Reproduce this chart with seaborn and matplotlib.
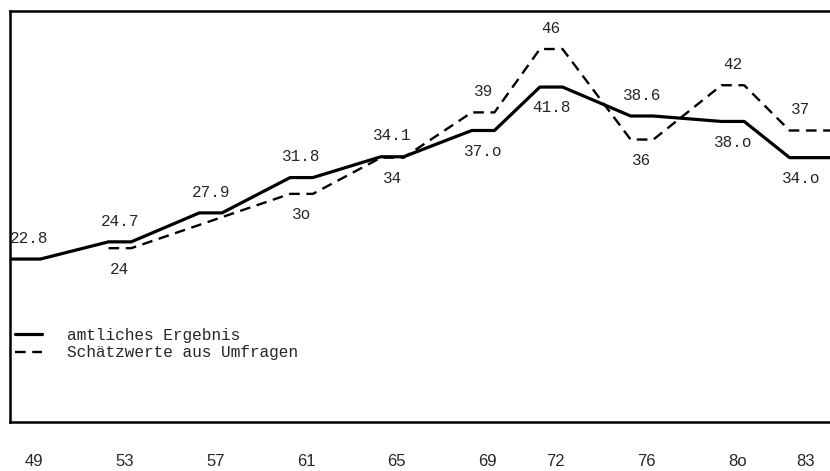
import numpy as np
import pandas as pd
import matplotlib
matplotlib.use("Agg")
import matplotlib.pyplot as plt
import seaborn as sns

# Wahljahre und Werte (in %)
jahre = [49, 53, 57, 61, 65, 69, 72, 76, 80, 83]
jahr_labels = ["49", "53", "57", "61", "65", "69", "72", "76", "8o", "83"]

amtlich = [22.8, 24.7, 27.9, 31.8, 34.1, 37.0, 41.8, 38.6, 38.0, 34.0]
amtlich_labels = ["22.8", "24.7", "27.9", "31.8", "34.1", "37.o", "41.8", "38.6", "38.o", "34.o"]
amtlich_lage = ["oben", "oben", "oben", "oben", "oben", "unten", "unten", "oben", "unten", "unten"]

umfrage_jahre = [53, 61, 65, 69, 72, 76, 80, 83]
umfrage = [24, 30, 34, 39, 46, 36, 42, 37]
umfrage_labels = ["24", "3o", "34", "39", "46", "36", "42", "37"]
umfrage_lage = ["unten", "unten", "unten", "oben", "oben", "unten", "oben", "oben"]

XMIN, XMAX = 47.96, 84.08
YMIN, YMAX = 4.8, 50.2

sns.set_style("white")
plt.rcParams["font.family"] = ["Liberation Mono", "DejaVu Sans Mono"]


def plateaus(years, values, left=None, right=None):
    # jedes Ergebnis als kurzes waagerechtes Stueck (ca. ein Jahr breit)
    xs, ys = [], []
    for i, (yr, v) in enumerate(zip(years, values)):
        x0, x1 = yr - 0.7, yr + 0.3
        if i == 0 and left is not None:
            x0 = left
        if i == len(years) - 1 and right is not None:
            x1 = right
        xs += [x0, x1]
        ys += [v, v]
    return pd.DataFrame({"jahr": xs, "wert": ys})


df_amt = plateaus(jahre, amtlich, left=XMIN, right=XMAX)
df_umf = plateaus(umfrage_jahre, umfrage, right=XMAX)

fig = plt.figure(figsize=(8.3, 4.71), dpi=100)
ax = fig.add_axes([10 / 830, 1 - 422 / 471, 820 / 830, 411 / 471])

sns.lineplot(data=df_amt, x="jahr", y="wert", ax=ax, sort=False, estimator=None,
             color="black", linewidth=2.3, label="amtliches Ergebnis")
sns.lineplot(data=df_umf, x="jahr", y="wert", ax=ax, sort=False, estimator=None,
             color="black", linewidth=1.7, label="Schätzwerte aus Umfragen")
ax.lines[1].set_dashes((4.5, 2.8))

for yr, v, txt, lage in zip(jahre, amtlich, amtlich_labels, amtlich_lage):
    dy = 15 if lage == "oben" else -15
    ax.annotate(txt, (yr - 0.2, v), xytext=(0, dy), textcoords="offset points",
                ha="center", va="center", fontsize=11.5)
for yr, v, txt, lage in zip(umfrage_jahre, umfrage, umfrage_labels, umfrage_lage):
    dy = 15 if lage == "oben" else -15
    ax.annotate(txt, (yr - 0.2, v), xytext=(0, dy), textcoords="offset points",
                ha="center", va="center", fontsize=11.5)

ax.set_xlim(XMIN, XMAX)
ax.set_ylim(YMIN, YMAX)
ax.set_xticks(jahre)
ax.set_xticklabels(jahr_labels, fontsize=12, family=["Liberation Sans", "DejaVu Sans"])
ax.set_yticks([])
ax.tick_params(axis="x", length=0, pad=23)
ax.set_xlabel("")
ax.set_ylabel("")

for side in ["left", "top", "bottom"]:
    ax.spines[side].set_color("black")
    ax.spines[side].set_linewidth(1.8)
ax.spines["right"].set_visible(False)

ax.legend(loc="upper left", bbox_to_anchor=(15 / 830, 1 - 328 / 471),
          bbox_transform=fig.transFigure, frameon=False, fontsize=11.6,
          handlelength=1.7, handletextpad=1.5, labelspacing=0.15,
          borderpad=0, borderaxespad=0)

fig.savefig("out.png", dpi=100)
